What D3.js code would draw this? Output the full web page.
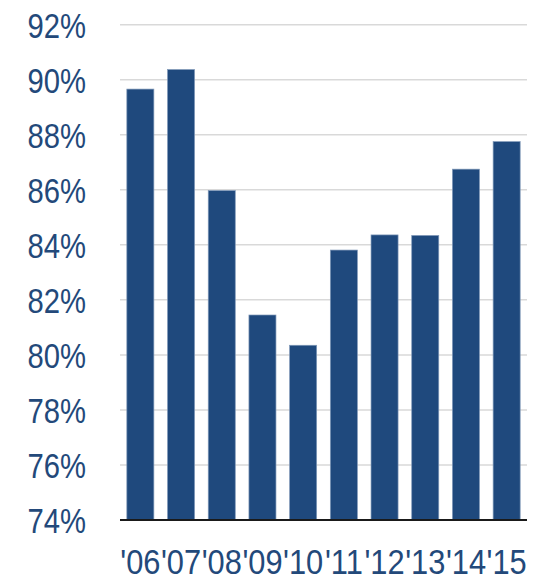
<!DOCTYPE html>
<html>
<head>
<meta charset="utf-8">
<script src="https://cdn.jsdelivr.net/npm/d3@7"></script>
<style>
  html, body { margin: 0; padding: 0; background: #fff; }
  svg { display: block; }
</style>
</head>
<body>
<div id="chart"></div>
<script>
// Yearly share, in percent
const years = ["'06", "'07", "'08", "'09", "'10", "'11", "'12", "'13", "'14", "'15"];
const values = [89.66, 90.37, 85.97, 81.45, 80.35, 83.81, 84.36, 84.34, 86.75, 87.75];
const yTicks = [74, 76, 78, 80, 82, 84, 86, 88, 90, 92];

const width = 543, height = 581;
const plotLeft = 120, plotRight = 527, plotTop = 24.7, plotBottom = 520;
const ink = "#23497a";
const barFill = "#1f497d";

const svg = d3.select("#chart").append("svg")
  .attr("width", width).attr("height", height);

const x = d3.scaleBand()
  .domain(years)
  .range([plotLeft, plotRight])
  .paddingInner(0.336)
  .paddingOuter(0.168);

const y = d3.scaleLinear()
  .domain([74, 92])
  .range([plotBottom, plotTop]);

// horizontal gridlines
svg.append("g")
  .selectAll("line")
  .data(yTicks.filter(t => t > 74))
  .join("line")
  .attr("x1", plotLeft).attr("x2", plotRight)
  .attr("y1", d => y(d)).attr("y2", d => y(d))
  .attr("stroke", "#d9d9d9")
  .attr("stroke-width", 1.5);

// bars
svg.append("g")
  .selectAll("rect")
  .data(values)
  .join("rect")
  .attr("x", (d, i) => x(years[i]))
  .attr("width", x.bandwidth())
  .attr("y", d => y(d))
  .attr("height", d => y(74) - y(d))
  .attr("fill", barFill)
  .attr("stroke", "#7f98b8")
  .attr("stroke-width", 0.7);

// baseline
svg.append("line")
  .attr("x1", plotLeft).attr("x2", plotRight)
  .attr("y1", y(74)).attr("y2", y(74))
  .attr("stroke", "#1a1a1a")
  .attr("stroke-width", 2);

// y-axis labels (narrowed Arial-style figures)
const yAxis = d3.axisLeft(y).tickValues(yTicks).tickFormat(d => d + "%").tickSize(0);
const yg = svg.append("g").attr("transform", `translate(${plotLeft},0)`).call(yAxis);
yg.select(".domain").remove();
yg.selectAll(".tick text")
  .attr("x", 0).attr("dy", null).attr("y", 12.6)
  .attr("text-anchor", "end")
  .attr("transform", "translate(-34,0) scale(0.835,1)")
  .attr("fill", ink)
  .style("font-family", "'Liberation Sans', Arial, sans-serif")
  .style("font-size", "35px");

// x-axis labels
const xAxis = d3.axisBottom(x).tickSize(0);
const xg = svg.append("g").attr("transform", `translate(0,${plotBottom})`).call(xAxis);
xg.select(".domain").remove();
xg.selectAll(".tick text")
  .attr("y", 0).attr("dy", null)
  .attr("text-anchor", "middle")
  .attr("transform", "translate(0,53.8) scale(0.88,1)")
  .attr("fill", ink)
  .style("font-family", "'Liberation Sans', Arial, sans-serif")
  .style("font-size", "35px");
</script>
</body>
</html>
